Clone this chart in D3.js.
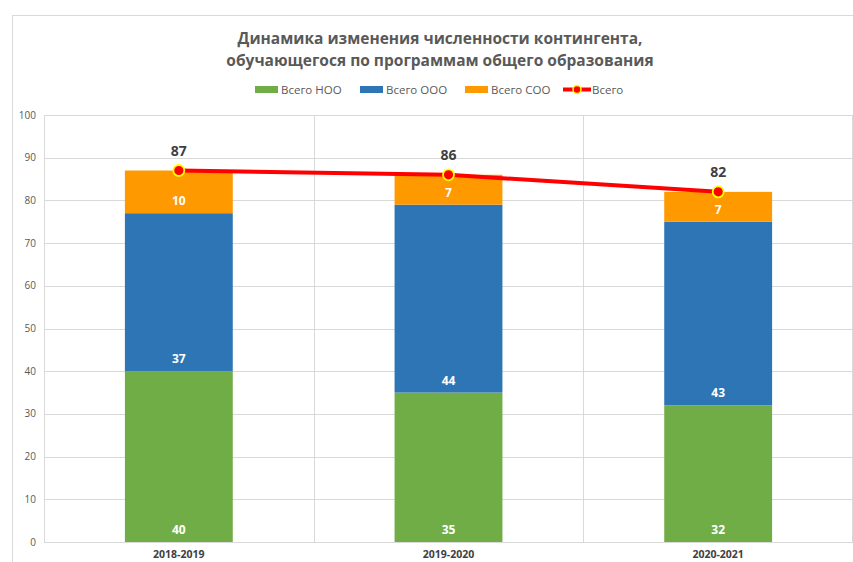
<!DOCTYPE html>
<html>
<head>
<meta charset="utf-8">
<script src="https://d3js.org/d3.v7.min.js"></script>
<style>
body { margin: 0; background: #fff; }
text { font-family: "Open Sans", "Noto Sans", sans-serif; }
</style>
</head>
<body>
<div id="viz"></div>
<script>
// data
var years = ["2018-2019", "2019-2020", "2020-2021"];
var noo = [40, 35, 32];
var ooo = [37, 44, 43];
var soo = [10, 7, 7];
var total = [87, 86, 82];
var yTicks = [0, 10, 20, 30, 40, 50, 60, 70, 80, 90, 100];
var seriesNames = ["Всего НОО", "Всего ООО", "Всего СОО", "Всего"];
var colors = ["#70AD47", "#2E75B6", "#FF9900", "#FF0000"];

var W = 853, H = 562;
var margin = {top: 115, right: 0, bottom: 20, left: 44};

var svg = d3.select("#viz").append("svg")
    .attr("width", W).attr("height", H);

// chart outline
svg.append("rect")
    .attr("x", 12.5).attr("y", 15.5)
    .attr("width", W + 20).attr("height", H + 20)
    .attr("fill", "none").attr("stroke", "#d9d9d9");

var x = d3.scaleBand().domain(years).range([margin.left, W]).padding(0);
var y = d3.scaleLinear().domain([0, 100]).range([H - margin.bottom, margin.top]);

// horizontal grid
svg.append("g").selectAll("line").data(yTicks).join("line")
    .attr("x1", margin.left).attr("x2", W)
    .attr("y1", function(d) { return Math.round(y(d)) + 0.5; })
    .attr("y2", function(d) { return Math.round(y(d)) + 0.5; })
    .attr("stroke", "#d9d9d9");

// vertical grid at category borders
var borders = years.map(function(d) { return x(d); }).concat([W - 1]);
svg.append("g").selectAll("line").data(borders).join("line")
    .attr("x1", function(d) { return Math.round(d) + 0.5; })
    .attr("x2", function(d) { return Math.round(d) + 0.5; })
    .attr("y1", y(100)).attr("y2", y(0))
    .attr("stroke", "#d9d9d9");

// y axis labels
svg.append("g").selectAll("text").data(yTicks).join("text")
    .attr("x", 36).attr("y", function(d) { return y(d) + 3.5; })
    .attr("text-anchor", "end")
    .attr("font-size", 10).attr("fill", "#595959")
    .text(function(d) { return d; });

// x labels
svg.append("g").selectAll("text").data(years).join("text")
    .attr("x", function(d) { return x(d) + x.bandwidth() / 2; })
    .attr("y", 558)
    .attr("text-anchor", "middle")
    .attr("font-size", 10.5).attr("font-weight", "bold").attr("fill", "#404040")
    .text(function(d) { return d; });

// stacked bars
var rows = years.map(function(d, i) { return {year: d, noo: noo[i], ooo: ooo[i], soo: soo[i]}; });
var stack = d3.stack().keys(["noo", "ooo", "soo"])(rows);
var barW = x.bandwidth() * 0.4;

stack.forEach(function(layer, li) {
  var g = svg.append("g");
  g.selectAll("rect").data(layer).join("rect")
      .attr("x", function(d) { return x(d.data.year) + (x.bandwidth() - barW) / 2; })
      .attr("y", function(d) { return y(d[1]); })
      .attr("width", barW)
      .attr("height", function(d) { return y(d[0]) - y(d[1]); })
      .attr("fill", colors[li]);
  g.selectAll("text").data(layer).join("text")
      .attr("x", function(d) { return x(d.data.year) + x.bandwidth() / 2; })
      .attr("y", function(d) { return y(d[0]) - 8; })
      .attr("text-anchor", "middle")
      .attr("font-size", 12).attr("font-weight", "bold").attr("fill", "#fff")
      .text(function(d) { return d[1] - d[0]; });
});

// total line
var line = d3.line()
    .x(function(d, i) { return x(years[i]) + x.bandwidth() / 2; })
    .y(function(d) { return y(d); });
svg.append("path").datum(total)
    .attr("d", line)
    .attr("fill", "none").attr("stroke", colors[3]).attr("stroke-width", 4);
svg.append("g").selectAll("circle").data(total).join("circle")
    .attr("cx", function(d, i) { return x(years[i]) + x.bandwidth() / 2; })
    .attr("cy", function(d) { return y(d); })
    .attr("r", 5.5)
    .attr("fill", colors[3]).attr("stroke", "#FFFF00").attr("stroke-width", 1.8);
svg.append("g").selectAll("text").data(total).join("text")
    .attr("x", function(d, i) { return x(years[i]) + x.bandwidth() / 2; })
    .attr("y", function(d) { return y(d) - 15; })
    .attr("text-anchor", "middle")
    .attr("font-size", 14).attr("font-weight", "bold").attr("fill", "#404040")
    .text(function(d) { return d; });

// title
svg.append("text").attr("x", 440).attr("y", 44)
    .attr("text-anchor", "middle").attr("font-size", 15.5).attr("font-weight", "bold").attr("fill", "#595959")
    .text("Динамика изменения численности контингента,");
svg.append("text").attr("x", 440).attr("y", 66)
    .attr("text-anchor", "middle").attr("font-size", 15.5).attr("font-weight", "bold").attr("fill", "#595959")
    .text("обучающегося по программам общего образования");

// legend
var legX = [255, 360, 465, 563];
var leg = svg.append("g");
seriesNames.forEach(function(name, i) {
  if (i < 3) {
    leg.append("rect").attr("x", legX[i]).attr("y", 86).attr("width", 23).attr("height", 7).attr("fill", colors[i]);
    leg.append("text").attr("x", legX[i] + 26).attr("y", 94)
        .attr("font-size", 11.5).attr("fill", "#595959").text(name);
  } else {
    leg.append("line").attr("x1", legX[i]).attr("x2", legX[i] + 28).attr("y1", 89.5).attr("y2", 89.5)
        .attr("stroke", colors[3]).attr("stroke-width", 4);
    leg.append("circle").attr("cx", legX[i] + 14).attr("cy", 89.5).attr("r", 4)
        .attr("fill", colors[3]).attr("stroke", "#FFFF00").attr("stroke-width", 1.5);
    leg.append("text").attr("x", legX[i] + 29).attr("y", 94)
        .attr("font-size", 11.5).attr("fill", "#595959").text(name);
  }
});
</script>
</body>
</html>
